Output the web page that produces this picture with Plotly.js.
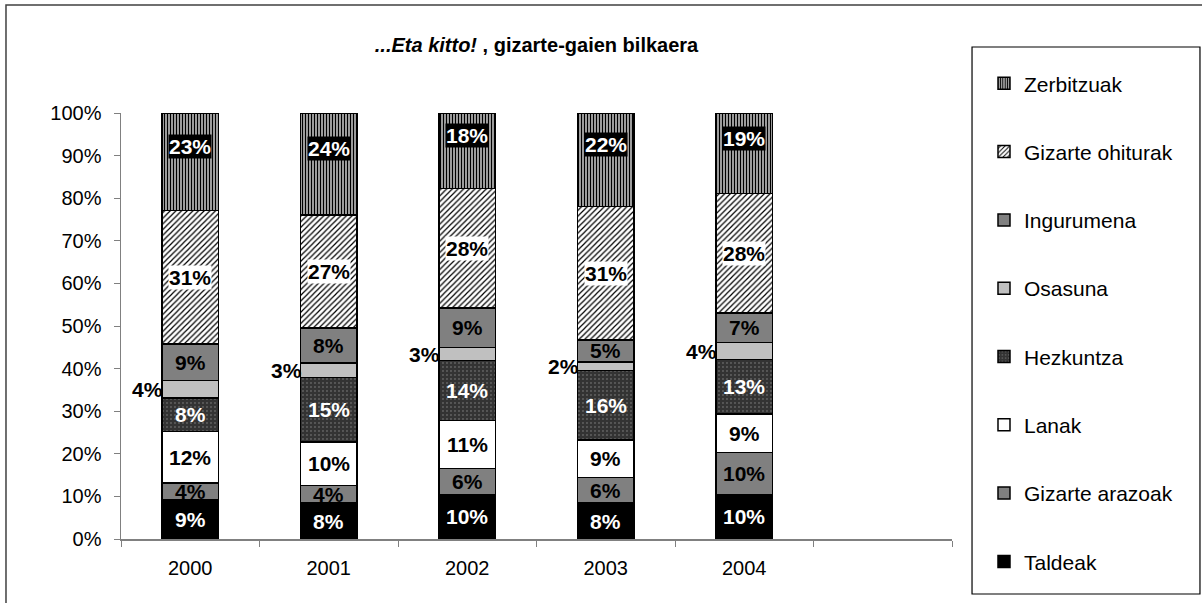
<!DOCTYPE html>
<html><head><meta charset="utf-8">
<script src="https://cdn.plot.ly/plotly-3.0.1.min.js"></script>
<style>html,body{margin:0;padding:0;background:#fff;overflow:hidden}#chart{width:1202px;height:603px}</style>
</head><body><div id="chart"></div>
<script>
// ---- data (percent shares per year) ----
const years = ['2000', '2001', '2002', '2003', '2004'];
const xCategories = ['2000', '2001', '2002', '2003', '2004', ' '];
const taldeak = [9.2, 8.4, 10.4, 8.4, 10.4];
const gizarteArazoak = [4.0, 4.2, 6.1, 6.0, 9.9];
const lanak = [12.0, 10.2, 11.3, 8.8, 9.1];
const hezkuntza = [7.9, 15.1, 14.1, 16.4, 12.7];
const osasuna = [4.1, 3.4, 3.0, 2.0, 4.0];
const ingurumena = [8.6, 8.2, 9.3, 5.1, 6.9];
const gizarteOhiturak = [31.3, 26.6, 28.1, 31.3, 28.1];
const zerbitzuak = [22.9, 23.9, 17.7, 22.0, 18.9];
const seriesNames = ['Taldeak', 'Gizarte arazoak', 'Lanak', 'Hezkuntza', 'Osasuna', 'Ingurumena', 'Gizarte ohiturak', 'Zerbitzuak'];
const yTickVals = [0, 10, 20, 30, 40, 50, 60, 70, 80, 90, 100];
const titleMain = '...Eta kitto!';
const titleRest = ' , gizarte-gaien bilkaera';

const seriesValues = [taldeak, gizarteArazoak, lanak, hezkuntza, osasuna, ingurumena, gizarteOhiturak, zerbitzuak];

// ---- styles ----
const FONT = '"Liberation Sans", Arial, sans-serif';
const barStyles = [
  {color: '#000000'},
  {color: '#808080'},
  {color: '#ffffff'},
  {color: '#333333', pattern: {shape: '.', fgcolor: '#8a8a8a', bgcolor: '#333333', size: 4, solidity: 0.1}},
  {color: '#c0c0c0'},
  {color: '#808080'},
  {color: '#ffffff', pattern: {shape: '/', fgcolor: '#000000', bgcolor: '#ffffff', size: 4, solidity: 0.3}},
  {color: '#d0d0d0', pattern: {shape: '|', fgcolor: '#000000', bgcolor: '#d0d0d0', size: 3, solidity: 0.5}}
];
const labelStyles = [
  {color: '#ffffff'},
  {color: '#000000'},
  {color: '#000000'},
  {color: '#ffffff'},
  {color: '#000000', outside: true},
  {color: '#000000'},
  {color: '#000000', bg: '#ffffff'},
  {color: '#ffffff', bg: '#000000', yshift: 15}
];

const traces = seriesNames.map((name, s) => {
  const st = barStyles[s];
  const marker = {color: st.color, line: {color: '#000000', width: 1.5}};
  if (st.pattern) marker.pattern = st.pattern;
  return {
    type: 'bar', name: name, x: years, y: seriesValues[s],
    marker: marker, legendgroup: 'g' + s, legendrank: 100 - s,
    hoverinfo: 'skip', textposition: 'none'
  };
});

const annotations = [];
years.forEach((yr, i) => {
  let cum = 0;
  seriesValues.forEach((vals, s) => {
    const v = vals[i];
    const mid = cum + v / 2;
    cum += v;
    const ls = labelStyles[s];
    const a = {
      x: i, y: mid, xref: 'x', yref: 'y', showarrow: false,
      text: '<b>' + Math.round(v) + '%</b>',
      font: {family: FONT, size: 21, color: ls.color},
      borderpad: 0
    };
    if (ls.bg) a.bgcolor = ls.bg;
    if (ls.yshift) a.yshift = ls.yshift;
    if (ls.outside) { a.xanchor = 'right'; a.xshift = -26; }
    annotations.push(a);
  });
});

const layout = {
  width: 1202, height: 603,
  margin: {l: 121, r: 250, t: 113, b: 64},
  paper_bgcolor: '#ffffff', plot_bgcolor: '#ffffff',
  font: {family: FONT, size: 20, color: '#000000'},
  barmode: 'stack', bargap: 0.59,
  showlegend: true,
  title: {
    text: '<b><i>' + titleMain + '</i>' + titleRest + '</b>',
    font: {family: FONT, size: 20, color: '#000000'},
    x: 0.5, xref: 'paper', xanchor: 'center',
    y: 0.925, yref: 'container', yanchor: 'middle'
  },
  xaxis: {
    type: 'category', categoryorder: 'array', categoryarray: xCategories,
    range: [-0.5, 5.5], fixedrange: true,
    showline: true, linecolor: '#808080', linewidth: 1.5,
    ticks: 'outside', tickson: 'boundaries', ticklen: 6, tickcolor: '#808080', tickwidth: 1,
    showgrid: false, zeroline: false,
    ticklabelstandoff: 10,
    tickfont: {family: FONT, size: 20, color: '#000000'}
  },
  yaxis: {
    range: [0, 100], tickmode: 'array', tickvals: yTickVals,
    ticktext: yTickVals.map(v => v + '%'),
    showline: true, linecolor: '#808080', linewidth: 1.5,
    ticks: 'outside', ticklen: 6, tickcolor: '#808080', tickwidth: 1,
    showgrid: false, zeroline: false, fixedrange: true,
    ticklabelstandoff: 8,
    tickfont: {family: FONT, size: 20, color: '#000000'}
  },
  legend: {
    x: 1.0385, xanchor: 'left', xref: 'paper',
    y: 1.117, yanchor: 'top', yref: 'paper',
    traceorder: 'grouped', tracegroupgap: 38,
    maxheight: 1,
    bgcolor: 'rgba(0,0,0,0)', borderwidth: 0,
    font: {family: FONT, size: 21, color: '#000000'},
    itemclick: false, itemdoubleclick: false
  },
  shapes: [
    {type: 'rect', xref: 'paper', yref: 'paper', x0: -0.1384, x1: 1.4, y0: -0.3, y1: 1.2535,
     line: {color: '#404040', width: 1.5}, fillcolor: 'rgba(0,0,0,0)', layer: 'below'},
    {type: 'rect', xref: 'paper', yref: 'paper', x0: 1.0241, x1: 1.2984, y0: -0.1291, y1: 1.1549,
     line: {color: '#000000', width: 1.2}, fillcolor: 'rgba(0,0,0,0)', layer: 'below'}
  ],
  annotations: annotations
};

Plotly.newPlot('chart', traces, layout, {displayModeBar: false, staticPlot: true});
</script>
</body></html>
